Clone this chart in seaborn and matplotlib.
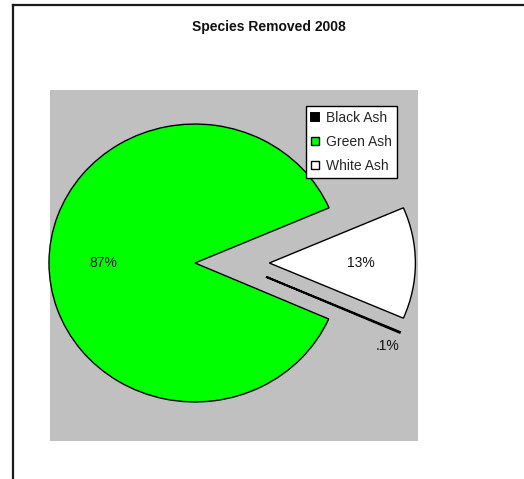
import matplotlib
matplotlib.use("Agg")
import matplotlib.pyplot as plt
from matplotlib.lines import Line2D
import seaborn as sns

# Species removed in 2008 (percent of total)
species = ["Black Ash", "Green Ash", "White Ash"]
percent = [0.1, 86.9, 13.0]
colors = ["#000000", "#00FF00", "#FFFFFF"]

sns.set_theme(style="white")
plt.rcParams["font.family"] = ["Liberation Sans", "DejaVu Sans"]

fig = plt.figure(figsize=(5.24, 4.79), dpi=100)
fig.patch.set_facecolor("white")

# chart-area border: top and left edges, running off the figure
x0, y0 = 13 / 524, 1 - 4.5 / 479
fig.lines.append(Line2D([x0, 1.05], [y0, y0], transform=fig.transFigure,
                        color="#1a1a1a", linewidth=1.6, solid_capstyle="projecting"))
fig.lines.append(Line2D([x0, x0], [y0, -0.05], transform=fig.transFigure,
                        color="#1a1a1a", linewidth=1.6, solid_capstyle="projecting"))

ax = fig.add_axes([50 / 524, 1 - 441 / 479, 368 / 524, 351 / 479])


def fmt(pct):
    if pct < 1:
        return f"{pct:.1f}".lstrip("0") + "%"
    return f"{pct:.0f}%"


wedges, texts, autotexts = ax.pie(
    percent,
    explode=[0.0, 0.0, 0.509],
    colors=colors,
    startangle=-23.4,
    counterclock=False,
    autopct=fmt,
    pctdistance=0.63,
    wedgeprops=dict(edgecolor="black", linewidth=1.0),
    textprops=dict(fontsize=10, color="#111111"),
)

# the thin Black Ash slice sits pulled out just under the White Ash slice
wedges[0].set_center((0.486, -0.099))
wedges[0].set_linewidth(1.4)
autotexts[0].set_position((1.32, -0.60))

ax.set_frame_on(True)
ax.set_facecolor("#C0C0C0")
for s in ax.spines.values():
    s.set_visible(False)
ax.set_aspect("auto")
ax.set_xlim(-0.993, 1.527)
ax.set_ylim(-1.281, 1.245)
ax.set_xticks([])
ax.set_yticks([])

fig.text(0.513, 0.944, "Species Removed 2008", ha="center", va="center",
         fontsize=10, fontweight="bold", color="#111111")

leg = fig.legend(
    wedges, species,
    loc="upper left",
    bbox_to_anchor=(306 / 524, 1 - 106 / 479),
    bbox_transform=fig.transFigure,
    borderaxespad=0,
    fontsize=10,
    frameon=True,
    fancybox=False,
    shadow=False,
    handlelength=0.6,
    handleheight=0.6,
    handletextpad=0.5,
    labelspacing=0.72,
    borderpad=0.35,
)
leg.get_frame().set_edgecolor("black")
leg.get_frame().set_linewidth(1.0)
leg.get_frame().set_facecolor("white")
leg.get_frame().set_alpha(1)

fig.savefig("out.png", dpi=100, facecolor="white")
